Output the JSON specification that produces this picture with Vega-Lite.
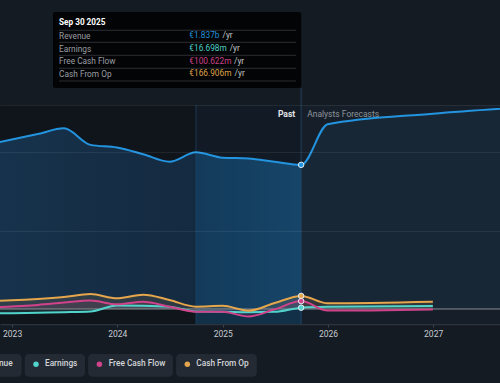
{
  "$schema": "https://vega.github.io/schema/vega-lite/v6.json",
  "width": 500,
  "height": 219,
  "autosize": {"type": "none"},
  "padding": {"top": 105, "bottom": 59, "left": 0, "right": 0},
  "background": "#151b23",
  "config": {"view": {"stroke": null}, "font": "Roboto", "text": {"font": "Roboto"}},
  "datasets": {
    "fin": [
      {"date": "2022-09-30", "series": "Revenue", "value": 2090},
      {"date": "2022-12-31", "series": "Revenue", "value": 2160},
      {"date": "2023-03-31", "series": "Revenue", "value": 2230},
      {"date": "2023-06-30", "series": "Revenue", "value": 2303},
      {"date": "2023-09-30", "series": "Revenue", "value": 2092},
      {"date": "2023-12-31", "series": "Revenue", "value": 2058},
      {"date": "2024-03-31", "series": "Revenue", "value": 1972},
      {"date": "2024-06-30", "series": "Revenue", "value": 1877},
      {"date": "2024-09-30", "series": "Revenue", "value": 1997},
      {"date": "2024-12-31", "series": "Revenue", "value": 1928},
      {"date": "2025-03-31", "series": "Revenue", "value": 1918},
      {"date": "2025-06-30", "series": "Revenue", "value": 1876},
      {"date": "2025-09-30", "series": "Revenue", "value": 1837},
      {"date": "2025-12-31", "series": "Revenue", "value": 2354},
      {"date": "2026-12-31", "series": "Revenue", "value": 2490},
      {"date": "2027-12-31", "series": "Revenue", "value": 2585},
      {"date": "2022-09-30", "series": "Earnings", "value": -57},
      {"date": "2022-12-31", "series": "Earnings", "value": -53},
      {"date": "2023-03-31", "series": "Earnings", "value": -47},
      {"date": "2023-06-30", "series": "Earnings", "value": -41},
      {"date": "2023-09-30", "series": "Earnings", "value": -32},
      {"date": "2023-12-31", "series": "Earnings", "value": 45},
      {"date": "2024-03-31", "series": "Earnings", "value": 42},
      {"date": "2024-06-30", "series": "Earnings", "value": 30},
      {"date": "2024-09-30", "series": "Earnings", "value": -32},
      {"date": "2024-12-31", "series": "Earnings", "value": -34},
      {"date": "2025-03-31", "series": "Earnings", "value": -40},
      {"date": "2025-06-30", "series": "Earnings", "value": -36},
      {"date": "2025-09-30", "series": "Earnings", "value": 16.698},
      {"date": "2025-12-31", "series": "Earnings", "value": 28},
      {"date": "2026-12-31", "series": "Earnings", "value": 38},
      {"date": "2022-09-30", "series": "Free Cash Flow", "value": 13},
      {"date": "2022-12-31", "series": "Free Cash Flow", "value": 33},
      {"date": "2023-03-31", "series": "Free Cash Flow", "value": 52},
      {"date": "2023-06-30", "series": "Free Cash Flow", "value": 82},
      {"date": "2023-09-30", "series": "Free Cash Flow", "value": 108},
      {"date": "2023-12-31", "series": "Free Cash Flow", "value": 60},
      {"date": "2024-03-31", "series": "Free Cash Flow", "value": 92},
      {"date": "2024-06-30", "series": "Free Cash Flow", "value": 30},
      {"date": "2024-09-30", "series": "Free Cash Flow", "value": -34},
      {"date": "2024-12-31", "series": "Free Cash Flow", "value": -34},
      {"date": "2025-03-31", "series": "Free Cash Flow", "value": -96},
      {"date": "2025-06-30", "series": "Free Cash Flow", "value": -4},
      {"date": "2025-09-30", "series": "Free Cash Flow", "value": 100.622},
      {"date": "2025-12-31", "series": "Free Cash Flow", "value": -20},
      {"date": "2026-12-31", "series": "Free Cash Flow", "value": -5},
      {"date": "2022-09-30", "series": "Cash From Op", "value": 102},
      {"date": "2022-12-31", "series": "Cash From Op", "value": 111},
      {"date": "2023-03-31", "series": "Cash From Op", "value": 128},
      {"date": "2023-06-30", "series": "Cash From Op", "value": 153},
      {"date": "2023-09-30", "series": "Cash From Op", "value": 190},
      {"date": "2023-12-31", "series": "Cash From Op", "value": 136},
      {"date": "2024-03-31", "series": "Cash From Op", "value": 182},
      {"date": "2024-06-30", "series": "Cash From Op", "value": 115},
      {"date": "2024-09-30", "series": "Cash From Op", "value": 30},
      {"date": "2024-12-31", "series": "Cash From Op", "value": 40},
      {"date": "2025-03-31", "series": "Cash From Op", "value": -22},
      {"date": "2025-06-30", "series": "Cash From Op", "value": 76},
      {"date": "2025-09-30", "series": "Cash From Op", "value": 166.906},
      {"date": "2025-12-31", "series": "Cash From Op", "value": 73},
      {"date": "2026-12-31", "series": "Cash From Op", "value": 93}
    ]
  },
  "layer": [
    {
      "data": {"values": [{}]},
      "mark": {"type": "rect", "color": "#10151c"},
      "encoding": {
        "x": {"datum": {"year": 2022, "month": 6, "date": 1, "utc": true}, "type": "temporal",
          "scale": {"type": "utc", "domain": [{"year": 2022, "month": 11, "date": 20, "utc": true}, {"year": 2027, "month": 8, "date": 21, "utc": true}]},
          "axis": {"format": "%Y", "tickCount": {"interval": "year", "step": 1}, "title": null, "grid": false, "domainColor": "#2c343f", "domainWidth": 1.5, "tickColor": "#3b4450", "tickSize": 3, "labelColor": "#c8ccd1", "labelFontSize": 8.5, "labelPadding": 2, "labelFont": "Roboto", "labelOverlap": false}},
        "x2": {"datum": {"year": 2024, "month": 9, "date": 30, "utc": true}},
        "y": {"datum": -191.2, "type": "quantitative",
          "scale": {"domain": [-191.2, 2600], "nice": false, "zero": false},
          "axis": {"values": [1000, 2000, 2600], "labels": false, "ticks": false, "domain": false, "title": null, "grid": true, "gridColor": "#ffffff", "gridOpacity": 0.07, "zindex": 1}},
        "y2": {"datum": 2600}
      }
    },
    {
      "data": {"values": [{}]},
      "mark": {"type": "rect", "color": "#121b25"},
      "encoding": {
        "x": {"datum": {"year": 2024, "month": 9, "date": 30, "utc": true}, "type": "temporal"},
        "x2": {"datum": {"year": 2025, "month": 9, "date": 30, "utc": true}},
        "y": {"datum": -191.2, "type": "quantitative"},
        "y2": {"datum": 2600}
      }
    },
    {
      "data": {"values": [{}]},
      "mark": {"type": "rect", "color": "#161f29"},
      "encoding": {
        "x": {"datum": {"year": 2025, "month": 9, "date": 30, "utc": true}, "type": "temporal"},
        "x2": {"datum": {"year": 2028, "month": 3, "date": 1, "utc": true}},
        "y": {"datum": -191.2, "type": "quantitative"},
        "y2": {"datum": 2600}
      }
    },
    {
      "data": {"values": [{}]},
      "mark": {"type": "rect", "color": "#123048"},
      "encoding": {
        "x": {"datum": {"year": 2024, "month": 9, "date": 30, "utc": true}, "type": "temporal"},
        "x2": {"datum": {"year": 2025, "month": 9, "date": 30, "utc": true}},
        "y": {"datum": -191.2, "type": "quantitative"},
        "y2": {"datum": 0}
      }
    },
    {
      "data": {"name": "fin"},
      "transform": [{"filter": {"field": "series", "equal": "Revenue"}}],
      "mark": {"type": "area", "interpolate": "monotone",
        "color": {"gradient": "linear", "x1": 0, "x2": 1, "y1": 0, "y2": 0, "stops": [
          {"offset": 0, "color": "#17334d"},
          {"offset": 0.381, "color": "#142a40"},
          {"offset": 0.3811, "color": "#133a5a"},
          {"offset": 0.5713, "color": "#164569"},
          {"offset": 0.5714, "color": "#182736"},
          {"offset": 1, "color": "#182736"}]}},
      "encoding": {
        "x": {"field": "date", "type": "temporal"},
        "y": {"field": "value", "type": "quantitative", "stack": null},
        "y2": {"datum": 0}
      }
    },
    {
      "data": {"name": "fin"},
      "transform": [{"filter": {"field": "series", "oneOf": ["Earnings", "Free Cash Flow", "Cash From Op"]}}],
      "mark": {"type": "area", "interpolate": "monotone", "opacity": 0.12},
      "encoding": {
        "x": {"field": "date", "type": "temporal"},
        "y": {"field": "value", "type": "quantitative", "stack": null},
        "y2": {"datum": 0},
        "color": {"field": "series", "type": "nominal", "legend": null}
      }
    },
    {
      "data": {"values": [{}]},
      "mark": {"type": "rule", "color": "#1f4d75", "opacity": 0.6, "strokeWidth": 1},
      "encoding": {
        "x": {"datum": {"year": 2024, "month": 9, "date": 30, "utc": true}, "type": "temporal"},
        "y": {"datum": -191.2, "type": "quantitative"},
        "y2": {"datum": 2600}
      }
    },
    {
      "data": {"values": [{}]},
      "mark": {"type": "rule", "color": "#24496d", "opacity": 0.8, "strokeWidth": 1},
      "encoding": {
        "x": {"datum": {"year": 2025, "month": 9, "date": 30, "utc": true}, "type": "temporal"},
        "y": {"datum": -191.2, "type": "quantitative"},
        "y2": {"datum": 2817}
      }
    },
    {
      "data": {"values": [{}]},
      "mark": {"type": "rule", "color": "#8a8e94", "strokeWidth": 1},
      "encoding": {
        "y": {"datum": 0, "type": "quantitative"}
      }
    },
    {
      "data": {"name": "fin"},
      "mark": {"type": "line", "interpolate": "monotone", "strokeWidth": 2},
      "encoding": {
        "x": {"field": "date", "type": "temporal"},
        "y": {"field": "value", "type": "quantitative"},
        "color": {"field": "series", "type": "nominal",
          "scale": {"domain": ["Revenue", "Earnings", "Free Cash Flow", "Cash From Op"], "range": ["#2394df", "#52d4cc", "#d0438a", "#e6a64c"]},
          "legend": null}
      }
    },
    {
      "data": {"name": "fin"},
      "transform": [{"filter": {"field": "date", "equal": {"year": 2025, "month": 9, "date": 30, "utc": true}}}],
      "mark": {"type": "circle", "size": 30, "opacity": 1, "stroke": "#e3f0f8", "strokeWidth": 1},
      "encoding": {
        "x": {"field": "date", "type": "temporal"},
        "y": {"field": "value", "type": "quantitative"},
        "color": {"field": "series", "type": "nominal", "legend": null}
      }
    },
    {
      "data": {"values": [{}]},
      "mark": {"type": "text", "text": "Past", "align": "right", "baseline": "middle", "dx": -6, "fontSize": 8.5, "fontWeight": "bold", "color": "#e6e8ea"},
      "encoding": {
        "x": {"datum": {"year": 2025, "month": 9, "date": 30, "utc": true}, "type": "temporal"},
        "y": {"datum": 2481, "type": "quantitative"}
      }
    },
    {
      "data": {"values": [{}]},
      "mark": {"type": "text", "text": "Analysts Forecasts", "align": "left", "baseline": "middle", "dx": 6, "fontSize": 8.5, "color": "#8e939a"},
      "encoding": {
        "x": {"datum": {"year": 2025, "month": 9, "date": 30, "utc": true}, "type": "temporal"},
        "y": {"datum": 2481, "type": "quantitative"}
      }
    },
    {
      "data": {"values": [{}]},
      "mark": {"type": "rect", "color": "#030405", "cornerRadius": 2},
      "encoding": {
        "x": {"datum": {"year": 2023, "month": 5, "date": 23, "utc": true}, "type": "temporal"},
        "x2": {"datum": {"year": 2025, "month": 9, "date": 30, "utc": true}},
        "y": {"datum": 3785, "type": "quantitative"},
        "y2": {"datum": 2817}
      }
    },
    {
      "data": {"values": [{}]},
      "mark": {"type": "text", "text": "Sep 30 2025", "align": "left", "baseline": "middle", "fontSize": 8.2, "fontWeight": "bold", "color": "#ffffff"},
      "encoding": {
        "x": {"datum": {"year": 2023, "month": 6, "date": 13, "utc": true}, "type": "temporal"},
        "y": {"datum": 3645, "type": "quantitative"}
      }
    },
    {
      "data": {"values": [{}]},
      "mark": {"type": "text", "text": ["Revenue", "Earnings", "Free Cash Flow", "Cash From Op"], "lineHeight": 12.6, "align": "left", "baseline": "top", "fontSize": 8.3, "color": "#9a9ea4"},
      "encoding": {
        "x": {"datum": {"year": 2023, "month": 6, "date": 13, "utc": true}, "type": "temporal"},
        "y": {"datum": 3530, "type": "quantitative"}
      }
    },
    {
      "data": {"values": [{}]},
      "mark": {"type": "text", "text": "€1.837b", "align": "left", "baseline": "middle", "fontSize": 8.3, "color": "#2391db"},
      "encoding": {
        "x": {"datum": {"year": 2024, "month": 9, "date": 7, "utc": true}, "type": "temporal"},
        "y": {"datum": 3479.4, "type": "quantitative"}
      }
    },
    {
      "data": {"values": [{}]},
      "mark": {"type": "text", "text": "€16.698m", "align": "left", "baseline": "middle", "fontSize": 8.3, "color": "#4ccdc4"},
      "encoding": {
        "x": {"datum": {"year": 2024, "month": 9, "date": 7, "utc": true}, "type": "temporal"},
        "y": {"datum": 3314.1, "type": "quantitative"}
      }
    },
    {
      "data": {"values": [{}]},
      "mark": {"type": "text", "text": "€100.622m", "align": "left", "baseline": "middle", "fontSize": 8.3, "color": "#cc4289"},
      "encoding": {
        "x": {"datum": {"year": 2024, "month": 9, "date": 7, "utc": true}, "type": "temporal"},
        "y": {"datum": 3153.5, "type": "quantitative"}
      }
    },
    {
      "data": {"values": [{}]},
      "mark": {"type": "text", "text": "€166.906m", "align": "left", "baseline": "middle", "fontSize": 8.3, "color": "#dfa24b"},
      "encoding": {
        "x": {"datum": {"year": 2024, "month": 9, "date": 7, "utc": true}, "type": "temporal"},
        "y": {"datum": 2990.4, "type": "quantitative"}
      }
    },
    {
      "data": {"values": [{}]},
      "mark": {"type": "text", "text": "/yr", "align": "left", "baseline": "middle", "dx": 2, "fontSize": 8.3, "color": "#c4c7cb"},
      "encoding": {
        "x": {"datum": {"year": 2024, "month": 12, "date": 24, "utc": true}, "type": "temporal"},
        "y": {"datum": 3479.4, "type": "quantitative"}
      }
    },
    {
      "data": {"values": [{}]},
      "mark": {"type": "text", "text": "/yr", "align": "left", "baseline": "middle", "dx": 2, "fontSize": 8.3, "color": "#c4c7cb"},
      "encoding": {
        "x": {"datum": {"year": 2025, "month": 1, "date": 18, "utc": true}, "type": "temporal"},
        "y": {"datum": 3314.1, "type": "quantitative"}
      }
    },
    {
      "data": {"values": [{}]},
      "mark": {"type": "text", "text": "/yr", "align": "left", "baseline": "middle", "dx": 2, "fontSize": 8.3, "color": "#c4c7cb"},
      "encoding": {
        "x": {"datum": {"year": 2025, "month": 2, "date": 2, "utc": true}, "type": "temporal"},
        "y": {"datum": 3153.5, "type": "quantitative"}
      }
    },
    {
      "data": {"values": [{}]},
      "mark": {"type": "text", "text": "/yr", "align": "left", "baseline": "middle", "dx": 2, "fontSize": 8.3, "color": "#c4c7cb"},
      "encoding": {
        "x": {"datum": {"year": 2025, "month": 2, "date": 4, "utc": true}, "type": "temporal"},
        "y": {"datum": 2990.4, "type": "quantitative"}
      }
    },
    {
      "data": {"values": [{}]},
      "mark": {"type": "rule", "color": "#2b2e33", "strokeWidth": 1},
      "encoding": {
        "x": {"datum": {"year": 2023, "month": 6, "date": 13, "utc": true}, "type": "temporal"},
        "x2": {"datum": {"year": 2025, "month": 9, "date": 12, "utc": true}},
        "y": {"datum": 3552.6, "type": "quantitative"}
      }
    },
    {
      "data": {"values": [{}]},
      "mark": {"type": "rule", "color": "#2b2e33", "strokeWidth": 1},
      "encoding": {
        "x": {"datum": {"year": 2023, "month": 6, "date": 13, "utc": true}, "type": "temporal"},
        "x2": {"datum": {"year": 2025, "month": 9, "date": 12, "utc": true}},
        "y": {"datum": 3399.1, "type": "quantitative"}
      }
    },
    {
      "data": {"values": [{}]},
      "mark": {"type": "rule", "color": "#2b2e33", "strokeWidth": 1},
      "encoding": {
        "x": {"datum": {"year": 2023, "month": 6, "date": 13, "utc": true}, "type": "temporal"},
        "x2": {"datum": {"year": 2025, "month": 9, "date": 12, "utc": true}},
        "y": {"datum": 3233.4, "type": "quantitative"}
      }
    },
    {
      "data": {"values": [{}]},
      "mark": {"type": "rule", "color": "#2b2e33", "strokeWidth": 1},
      "encoding": {
        "x": {"datum": {"year": 2023, "month": 6, "date": 13, "utc": true}, "type": "temporal"},
        "x2": {"datum": {"year": 2025, "month": 9, "date": 12, "utc": true}},
        "y": {"datum": 3067.8, "type": "quantitative"}
      }
    },
    {
      "data": {"values": [{}]},
      "mark": {"type": "rule", "color": "#2b2e33", "strokeWidth": 1},
      "encoding": {
        "x": {"datum": {"year": 2023, "month": 6, "date": 13, "utc": true}, "type": "temporal"},
        "x2": {"datum": {"year": 2025, "month": 9, "date": 12, "utc": true}},
        "y": {"datum": 2905.9, "type": "quantitative"}
      }
    },
    {
      "data": {"values": [{}]},
      "mark": {"type": "rect", "color": "#242a33", "cornerRadius": 4},
      "encoding": {
        "x": {"datum": {"year": 2022, "month": 6, "date": 1, "utc": true}, "type": "temporal"},
        "x2": {"datum": {"year": 2023, "month": 2, "date": 3, "utc": true}},
        "y": {"datum": -573.5, "type": "quantitative"},
        "y2": {"datum": -862.8}
      }
    },
    {
      "data": {"values": [{}]},
      "mark": {"type": "rect", "color": "#242a33", "cornerRadius": 4},
      "encoding": {
        "x": {"datum": {"year": 2023, "month": 2, "date": 14, "utc": true}, "type": "temporal"},
        "x2": {"datum": {"year": 2023, "month": 9, "date": 11, "utc": true}},
        "y": {"datum": -573.5, "type": "quantitative"},
        "y2": {"datum": -862.8}
      }
    },
    {
      "data": {"values": [{}]},
      "mark": {"type": "rect", "color": "#242a33", "cornerRadius": 4},
      "encoding": {
        "x": {"datum": {"year": 2023, "month": 9, "date": 22, "utc": true}, "type": "temporal"},
        "x2": {"datum": {"year": 2024, "month": 7, "date": 12, "utc": true}},
        "y": {"datum": -573.5, "type": "quantitative"},
        "y2": {"datum": -862.8}
      }
    },
    {
      "data": {"values": [{}]},
      "mark": {"type": "rect", "color": "#242a33", "cornerRadius": 4},
      "encoding": {
        "x": {"datum": {"year": 2024, "month": 7, "date": 23, "utc": true}, "type": "temporal"},
        "x2": {"datum": {"year": 2025, "month": 4, "date": 29, "utc": true}},
        "y": {"datum": -573.5, "type": "quantitative"},
        "y2": {"datum": -862.8}
      }
    },
    {
      "data": {"values": [{}]},
      "mark": {"type": "circle", "size": 30, "opacity": 1},
      "encoding": {
        "x": {"datum": {"year": 2023, "month": 3, "date": 25, "utc": true}, "type": "temporal"},
        "y": {"datum": -704.8, "type": "quantitative"},
        "color": {"datum": "Earnings", "type": "nominal"}
      }
    },
    {
      "data": {"values": [{}]},
      "mark": {"type": "circle", "size": 30, "opacity": 1},
      "encoding": {
        "x": {"datum": {"year": 2023, "month": 10, "date": 31, "utc": true}, "type": "temporal"},
        "y": {"datum": -704.8, "type": "quantitative"},
        "color": {"datum": "Free Cash Flow", "type": "nominal"}
      }
    },
    {
      "data": {"values": [{}]},
      "mark": {"type": "circle", "size": 30, "opacity": 1},
      "encoding": {
        "x": {"datum": {"year": 2024, "month": 8, "date": 31, "utc": true}, "type": "temporal"},
        "y": {"datum": -704.8, "type": "quantitative"},
        "color": {"datum": "Cash From Op", "type": "nominal"}
      }
    },
    {
      "data": {"values": [{}]},
      "mark": {"type": "text", "text": "Revenue", "align": "right", "baseline": "middle", "fontSize": 8.3, "fontWeight": 500, "color": "#d2d5d9"},
      "encoding": {
        "x": {"datum": {"year": 2023, "month": 1, "date": 3, "utc": true}, "type": "temporal"},
        "y": {"datum": -704.8, "type": "quantitative"}
      }
    },
    {
      "data": {"values": [{}]},
      "mark": {"type": "text", "text": "Earnings", "align": "left", "baseline": "middle", "fontSize": 8.3, "fontWeight": 500, "color": "#d2d5d9"},
      "encoding": {
        "x": {"datum": {"year": 2023, "month": 4, "date": 25, "utc": true}, "type": "temporal"},
        "y": {"datum": -704.8, "type": "quantitative"}
      }
    },
    {
      "data": {"values": [{}]},
      "mark": {"type": "text", "text": "Free Cash Flow", "align": "left", "baseline": "middle", "fontSize": 8.3, "fontWeight": 500, "color": "#d2d5d9"},
      "encoding": {
        "x": {"datum": {"year": 2023, "month": 12, "date": 2, "utc": true}, "type": "temporal"},
        "y": {"datum": -704.8, "type": "quantitative"}
      }
    },
    {
      "data": {"values": [{}]},
      "mark": {"type": "text", "text": "Cash From Op", "align": "left", "baseline": "middle", "fontSize": 8.3, "fontWeight": 500, "color": "#d2d5d9"},
      "encoding": {
        "x": {"datum": {"year": 2024, "month": 10, "date": 1, "utc": true}, "type": "temporal"},
        "y": {"datum": -704.8, "type": "quantitative"}
      }
    }
  ]
}
